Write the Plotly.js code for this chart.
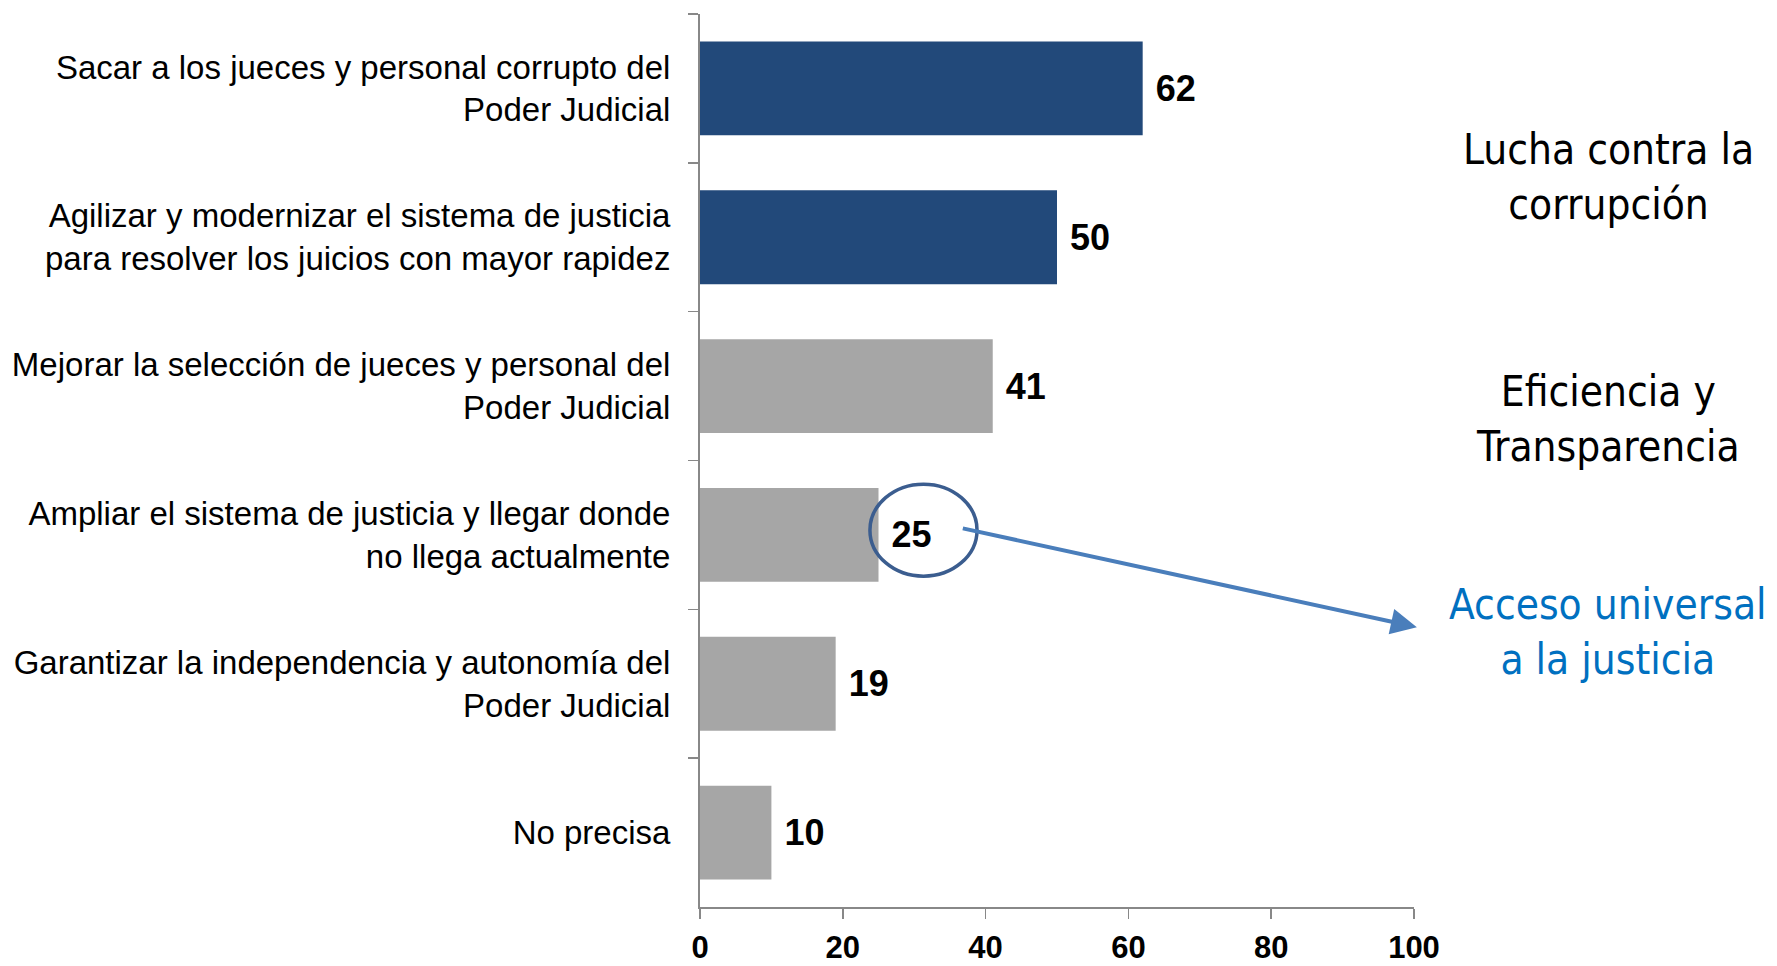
<!DOCTYPE html>
<html>
<head>
<meta charset="utf-8">
<script src="https://cdn.plot.ly/plotly-3.0.1.min.js"></script>
<style>
  html, body { margin: 0; padding: 0; background: #ffffff; }
  #chart { width: 1777px; height: 966px; }
</style>
</head>
<body>
<div id="chart"></div>
<script>
const categories = [
  "Sacar a los jueces y personal corrupto del<br>Poder Judicial",
  "Agilizar y modernizar el sistema de justicia<br>para resolver los juicios con mayor rapidez",
  "Mejorar la selección de jueces y personal del<br>Poder Judicial",
  "Ampliar el sistema de justicia y llegar donde<br>no llega actualmente",
  "Garantizar la independencia y autonomía del<br>Poder Judicial",
  "No precisa"
];
const values = [62, 50, 41, 25, 19, 10];
const barColors = ["#22497A", "#22497A", "#A6A6A6", "#A6A6A6", "#A6A6A6", "#A6A6A6"];
const xTicks = [0, 20, 40, 60, 80, 100];
const sideNotes = ["Lucha contra la<br>corrupción", "Eficiencia y<br>Transparencia", "Acceso universal<br>a la justicia"];
const sideColors = ["#000000", "#000000", "#0070C0"];

const trace = {
  type: "bar",
  orientation: "h",
  x: values,
  y: categories,
  marker: { color: barColors },
  text: values.map(v => String(v)),
  texttemplate: "\u00a0%{text}",
  textposition: "outside",
  cliponaxis: false,
  textfont: { family: "Liberation Sans, Arial, sans-serif", size: 36, color: "#000000", weight: "bold" },
  hoverinfo: "skip"
};

const sideFont = { family: "DejaVu Sans Condensed, DejaVu Sans, sans-serif", size: 42 };
const annotations = [
  { xref: "paper", yref: "paper", x: 1.272, y: 0.818, text: sideNotes[0], showarrow: false,
    font: Object.assign({}, sideFont, { color: sideColors[0] }), align: "center", xanchor: "center", yanchor: "middle" },
  { xref: "paper", yref: "paper", x: 1.272, y: 0.547, text: sideNotes[1], showarrow: false,
    font: Object.assign({}, sideFont, { color: sideColors[1] }), align: "center", xanchor: "center", yanchor: "middle" },
  { xref: "paper", yref: "paper", x: 1.272, y: 0.308, text: sideNotes[2], showarrow: false,
    font: Object.assign({}, sideFont, { color: sideColors[2] }), align: "center", xanchor: "center", yanchor: "middle" },
  { xref: "x", yref: "y", x: 100.4, y: 3.62, axref: "x", ayref: "y", ax: 36.6, ay: 2.954,
    text: "", showarrow: true, arrowhead: 2, arrowsize: 1.3, arrowwidth: 4, arrowcolor: "#4A7EBB" }
];

const shapes = [
  { type: "circle", xref: "x", yref: "y", x0: 23.8, x1: 38.8, y0: 2.659, y1: 3.277,
    line: { color: "#3B5D8F", width: 3.5 }, fillcolor: "rgba(0,0,0,0)", layer: "above" }
];

const layout = {
  width: 1777,
  height: 966,
  margin: { l: 700, r: 363, t: 14, b: 59 },
  paper_bgcolor: "#ffffff",
  plot_bgcolor: "#ffffff",
  showlegend: false,
  bargap: 0.37,
  xaxis: {
    range: [0, 100],
    tickvals: xTicks,
    ticktext: xTicks.map(String),
    showgrid: false,
    zeroline: false,
    showline: true,
    linecolor: "#888888",
    linewidth: 2,
    ticks: "outside",
    ticklen: 10,
    tickwidth: 1.5,
    tickcolor: "#888888",
    ticklabelstandoff: 2,
    tickfont: { family: "Liberation Sans, Arial, sans-serif", size: 31, color: "#000000", weight: "bold" },
    fixedrange: true
  },
  yaxis: {
    type: "category",
    autorange: "reversed",
    showgrid: false,
    zeroline: false,
    showline: true,
    linecolor: "#888888",
    linewidth: 2,
    ticks: "outside",
    tickson: "boundaries",
    ticklen: 10,
    tickwidth: 1.5,
    tickcolor: "#888888",
    ticklabelstandoff: 21,
    tickfont: { family: "Liberation Sans, Arial, sans-serif", size: 33, color: "#000000" },
    fixedrange: true
  },
  annotations: annotations,
  shapes: shapes
};

Plotly.newPlot("chart", [trace], layout, { displayModeBar: false, staticPlot: true });
</script>
</body>
</html>
